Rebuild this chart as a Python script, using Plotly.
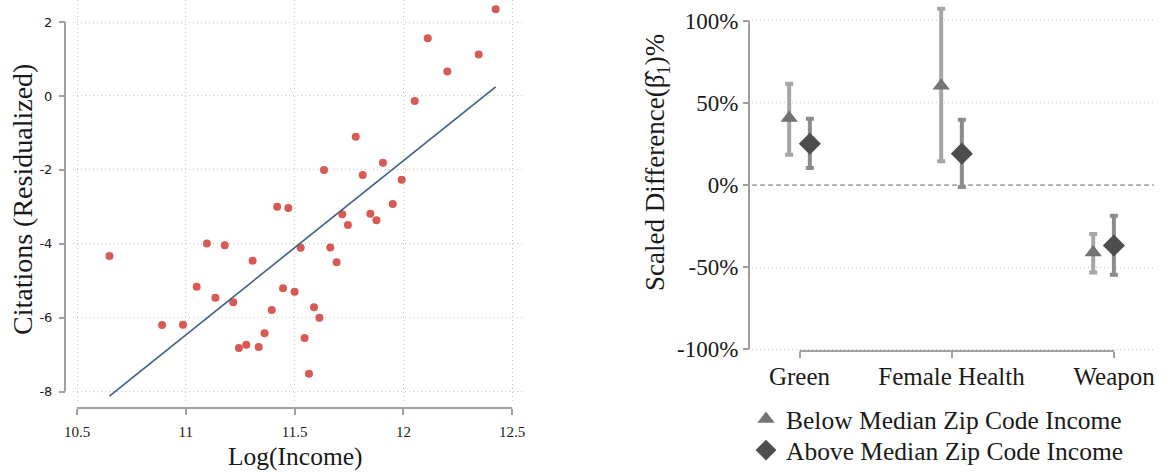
import plotly.graph_objects as go

# ---------------- Data: left panel ----------------
log_income = [10.649, 10.891, 10.987, 11.050, 11.097, 11.136, 11.179, 11.218, 11.244, 11.278,
              11.307, 11.335, 11.362, 11.395, 11.420, 11.447, 11.471, 11.500, 11.528, 11.546,
              11.566, 11.589, 11.614, 11.635, 11.664, 11.693, 11.719, 11.745, 11.781, 11.813,
              11.848, 11.876, 11.906, 11.951, 11.992, 12.052, 12.112, 12.202, 12.346, 12.424]
citations = [-4.33, -6.20, -6.19, -5.16, -3.99, -5.46, -4.04, -5.58, -6.82, -6.73,
             -4.46, -6.79, -6.42, -5.79, -3.00, -5.20, -3.03, -5.30, -4.11, -6.55,
             -7.52, -5.72, -6.00, -2.00, -4.10, -4.50, -3.20, -3.49, -1.10, -2.14,
             -3.19, -3.36, -1.81, -2.92, -2.27, -0.135, 1.56, 0.66, 1.12, 2.35]
fit_x = [10.649, 12.424]
fit_y = [-8.12, 0.25]

left_xticks = [10.5, 11, 11.5, 12, 12.5]
left_xticklabels = ["10.5", "11", "11.5", "12", "12.5"]
left_yticks = [-8, -6, -4, -2, 0, 2]
left_yticklabels = ["-8", "-6", "-4", "-2", "0", "2"]

# ---------------- Data: right panel ----------------
categories = ["Green", "Female Health", "Weapon"]
below_est = [40.8, 60.4, -41.0]
below_lo = [18.4, 14.4, -53.2]
below_hi = [61.7, 107.3, -29.8]
above_est = [25.1, 19.1, -36.8]
above_lo = [10.3, -1.2, -54.6]
above_hi = [40.4, 39.7, -18.7]
series_names = ["Below Median Zip Code Income", "Above Median Zip Code Income"]

right_yticks = [-100, -50, 0, 50, 100]
right_yticklabels = ["-100%", "-50%", "0%", "50%", "100%"]
right_xtick_pos = [0, 1, 2.07]

# ---------------- Layout helpers ----------------
W, H = 1170, 472


def pxx(p):
    return p / W


def pxy(p):
    return 1 - p / H


SERIF = "Liberation Serif"
SANS = "DejaVu Sans"
AXIS_COL = "#a0a0a0"
GRID_COL = "#c4c4c4"
TXT = "#1a1a1a"
OFF = 0.068

fig = go.Figure()

# Left scatter + fit line
fig.add_trace(go.Scatter(x=log_income, y=citations, mode="markers",
                         marker=dict(size=8, color="#d95a55", line=dict(width=0)),
                         showlegend=False, xaxis="x", yaxis="y"))
fig.add_trace(go.Scatter(x=fit_x, y=fit_y, mode="lines",
                         line=dict(color="#3f5d8a", width=1.6),
                         showlegend=False, xaxis="x", yaxis="y"))

# Right coefficient plot
idx = list(range(len(categories)))
fig.add_trace(go.Scatter(
    x=[i - OFF for i in idx], y=below_est, mode="markers", name=series_names[0],
    marker=dict(symbol="triangle-up", size=15, color="#737373"),
    error_y=dict(type="data", symmetric=False,
                 array=[h - e for h, e in zip(below_hi, below_est)],
                 arrayminus=[e - l for e, l in zip(below_est, below_lo)],
                 color="#a6a6a6", thickness=4, width=4),
    xaxis="x2", yaxis="y2", legend="legend"))
fig.add_trace(go.Scatter(
    x=[i + OFF for i in idx], y=above_est, mode="markers", name=series_names[1],
    marker=dict(symbol="diamond", size=17, color="#4d4d4d"),
    error_y=dict(type="data", symmetric=False,
                 array=[h - e for h, e in zip(above_hi, above_est)],
                 arrayminus=[e - l for e, l in zip(above_est, above_lo)],
                 color="#8c8c8c", thickness=4, width=4),
    xaxis="x2", yaxis="y2", legend="legend2"))

common_tick = dict(ticks="outside", ticklen=6, tickwidth=1.5, tickcolor=AXIS_COL,
                   showline=False, zeroline=False, automargin=False)

legend_common = dict(x=pxx(746), xanchor="left", yanchor="top",
                     bgcolor="rgba(0,0,0,0)", font=dict(family=SERIF, size=25.5, color=TXT),
                     itemwidth=30, tracegroupgap=0)

fig.update_layout(
    width=W, height=H, margin=dict(l=0, r=0, t=0, b=0, autoexpand=False),
    paper_bgcolor="white", plot_bgcolor="white",
    xaxis=dict(domain=[pxx(73), pxx(522)], range=[10.4816, 12.545],
               anchor="free", position=pxy(408),
               tickmode="array", tickvals=left_xticks, ticktext=left_xticklabels,
               tickfont=dict(family=SERIF, size=15, color=TXT), ticklabelstandoff=4,
               showgrid=True, gridcolor=GRID_COL, griddash="1px,3px", gridwidth=1,
               **common_tick),
    yaxis=dict(domain=[pxy(404), 1], range=[-8.336, 2.598],
               anchor="free", position=pxx(65),
               tickmode="array", tickvals=left_yticks, ticktext=left_yticklabels,
               tickfont=dict(family=SANS, size=13, color=TXT), ticklabelstandoff=4,
               showgrid=True, gridcolor=GRID_COL, griddash="1px,3px", gridwidth=1,
               **common_tick),
    xaxis2=dict(domain=[pxx(752), pxx(1154)], range=[-0.3125, 2.332],
                anchor="free", position=pxy(351),
                tickmode="array", tickvals=right_xtick_pos, ticktext=categories,
                tickfont=dict(family=SERIF, size=25, color=TXT), ticklabelstandoff=-3,
                showgrid=False, **common_tick),
    yaxis2=dict(domain=[pxy(351), 1], range=[-101.0, 112.6],
                anchor="free", position=pxx(749),
                tickmode="array", tickvals=right_yticks, ticktext=right_yticklabels,
                tickfont=dict(family=SERIF, size=23, color=TXT),
                showgrid=True, gridcolor=GRID_COL, griddash="1px,3px", gridwidth=1,
                **common_tick),
    legend=dict(y=pxy(396), **legend_common),
    legend2=dict(y=pxy(427), **legend_common),
    showlegend=True,
)

# Axis lines (span only tick range, as in reference)
fig.add_shape(type="line", xref="paper", yref="y", x0=pxx(65), x1=pxx(65), y0=left_yticks[0], y1=left_yticks[-1],
              line=dict(color=AXIS_COL, width=2))
fig.add_shape(type="line", xref="x", yref="paper", x0=left_xticks[0], x1=left_xticks[-1], y0=pxy(408), y1=pxy(408),
              line=dict(color=AXIS_COL, width=2))
fig.add_shape(type="line", xref="paper", yref="y2", x0=pxx(749), x1=pxx(749), y0=right_yticks[0], y1=right_yticks[-1],
              line=dict(color=AXIS_COL, width=2))
fig.add_shape(type="line", xref="x2", yref="paper", x0=right_xtick_pos[0], x1=right_xtick_pos[-1], y0=pxy(351), y1=pxy(351),
              line=dict(color=AXIS_COL, width=2))
# Zero reference line
fig.add_shape(type="line", xref="x2 domain", yref="y2", x0=0, x1=1, y0=0, y1=0,
              line=dict(color="#808080", width=1.2, dash="5px,3px"), layer="below")

# Axis titles
fig.add_annotation(text="Citations (Residualized)", x=pxx(22), y=pxy(200), xref="paper", yref="paper",
                   textangle=-90, showarrow=False, xanchor="center", yanchor="middle",
                   font=dict(family=SERIF, size=28, color=TXT))
fig.add_annotation(text="Log(Income)", x=pxx(295), y=pxy(456), xref="paper", yref="paper",
                   showarrow=False, xanchor="center", yanchor="middle",
                   font=dict(family=SERIF, size=25.5, color=TXT))
fig.add_annotation(text="Scaled Difference(\u03b2\u0302<sub>1</sub>)%",
                   x=pxx(657), y=pxy(163), xref="paper", yref="paper",
                   textangle=-90, showarrow=False, xanchor="center", yanchor="middle",
                   font=dict(family=SERIF, size=27, color=TXT))

fig.write_html("out.html")
